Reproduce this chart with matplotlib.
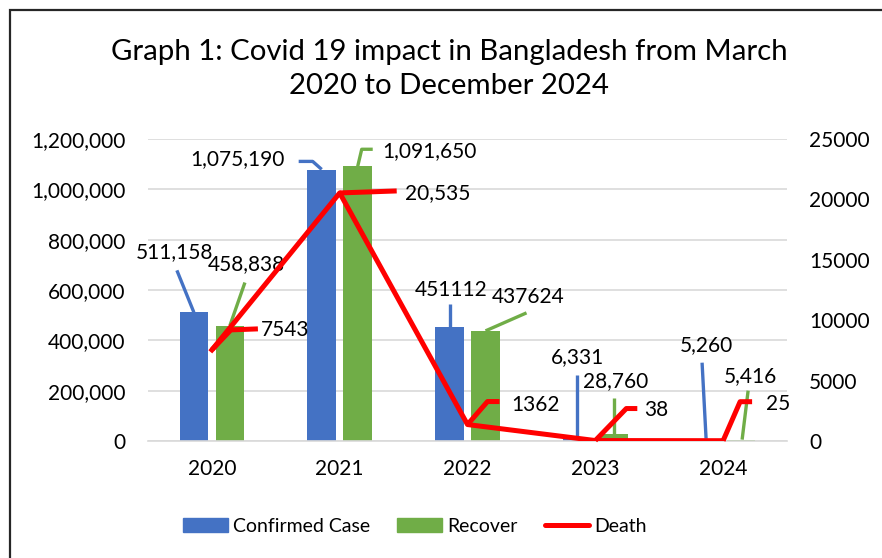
import matplotlib
matplotlib.use("Agg")
import matplotlib.pyplot as plt
from matplotlib.patches import Rectangle, Patch
from matplotlib.lines import Line2D
import numpy as np

plt.rcParams['font.family'] = ['Lato', 'DejaVu Sans']

years = ['2020', '2021', '2022', '2023', '2024']
confirmed = [511158, 1075190, 451112, 6331, 5260]
recovered = [458838, 1091650, 437624, 28760, 5416]
deaths = [7543, 20535, 1362, 38, 25]

# how each data label is written
confirmed_fmt = ['{:,}', '{:,}', '{}', '{:,}', '{:,}']
recovered_fmt = ['{:,}', '{:,}', '{}', '{:,}', '{:,}']
death_fmt = ['{}', '{:,}', '{}', '{}', '{}']

BLUE = '#4472C4'
GREEN = '#70AD47'
RED = '#FF0000'
GRID = '#D9D9D9'

# label placement: text centre offset and leader path, in pixels (x right, y down)
confirmed_lbl = [((-19, -60), [(-17, -42), (0, 0)]),
                 ((-84, -11), [(-23, -9), (-9, -9), (0, -1)]),
                 ((2, -37), [(1, -23), (1, 0)]),
                 ((0, -82), [(0, -64), (0, -1)]),
                 ((1, -95), [(-3, -77), (1, -1)])]
recovered_lbl = [((16, -61), [(15, -43), (0, 0)]),
                 ((72, -15), [(15, -17), (4, -17), (0, 0)]),
                 ((43, -34), [(41, -18), (0, 0)]),
                 ((2, -53), [(1, -36), (1, 0)]),
                 ((9, -64), [(7, -49), (1, 0)])]
death_lbl = [((73, -20), [(0, 0), (19, -20), (46, -21)]),
             ((98, 0), [(0, 0), (57, -2)]),
             ((68, -20), [(0, 0), (20, -23), (32, -23)]),
             ((61, -31), [(0, 0), (31, -32), (42, -32)]),
             ((55, -37), [(0, 0), (17, -39), (29, -39)])]

fig = plt.figure(figsize=(8.82, 5.58), dpi=100)
ax = fig.add_axes([148 / 882, 1 - 441 / 558, 639 / 882, 302 / 558])
ax2 = ax.twinx()

x = np.arange(len(years))
width = 0.225
off = 0.141

ax.bar(x - off, confirmed, width, color=BLUE, zorder=2)
ax.bar(x + off, recovered, width, color=GREEN, zorder=2)
ax2.plot(x, deaths, color=RED, lw=3.6, zorder=3)

ax.set_xlim(-0.5, 4.5)
ax.set_ylim(0, 1200000)
ax.set_yticks(np.arange(0, 1200001, 200000))
ax.yaxis.set_major_formatter(matplotlib.ticker.StrMethodFormatter('{x:,.0f}'))
ax2.set_ylim(0, 25000)
ax2.set_yticks(np.arange(0, 25001, 5000))

ax.set_xticks(x)
ax.set_xticklabels(years)
ax.grid(axis='y', color=GRID, lw=1.2, zorder=0)
ax.set_axisbelow(True)

for a in (ax, ax2):
    for s in a.spines.values():
        s.set_visible(False)
ax.spines['bottom'].set_visible(True)
ax.spines['bottom'].set_color(GRID)
ax.spines['bottom'].set_linewidth(1.2)

ax.tick_params(axis='y', length=0, pad=16, labelsize=15)
ax.tick_params(axis='x', length=0, pad=13, labelsize=15)
ax2.tick_params(axis='y', length=0, pad=16, labelsize=15)


def add_label(axis, xv, yv, text, color, spec, lw):
    (tx, ty), path = spec
    px, py = axis.transData.transform((xv, yv))
    inv = axis.transData.inverted()
    pts = inv.transform([(px + dx, py - dy) for dx, dy in path])
    axis.plot(pts[:, 0], pts[:, 1], color=color, lw=lw, clip_on=False,
              solid_capstyle='butt', zorder=4)
    lx, ly = inv.transform((px + tx, py - ty))
    axis.text(lx, ly, text, ha='center', va='center', fontsize=15,
              color='black', zorder=5, clip_on=False)


for i in range(len(years)):
    add_label(ax, x[i] - off, confirmed[i], confirmed_fmt[i].format(confirmed[i]),
              BLUE, confirmed_lbl[i], 2.4)
    add_label(ax, x[i] + off, recovered[i], recovered_fmt[i].format(recovered[i]),
              GREEN, recovered_lbl[i], 2.4)
    add_label(ax2, x[i], deaths[i], death_fmt[i].format(deaths[i]),
              RED, death_lbl[i], 3.6)

fig.text(449 / 882, 1 - 69 / 558,
         'Graph 1: Covid 19 impact in Bangladesh from March\n2020 to December 2024',
         ha='center', va='center', fontsize=21.2, linespacing=1.38)

handles = [Patch(color=BLUE), Patch(color=GREEN),
           Line2D([], [], color=RED, lw=3.6, solid_capstyle='round')]
fig.legend(handles, ['Confirmed Case', 'Recover', 'Death'], loc='center',
           bbox_to_anchor=(415 / 882, 1 - 526 / 558), ncol=3, frameon=False,
           fontsize=14, handlelength=2.3, handleheight=0.75, handletextpad=0.25,
           columnspacing=1.4)

# chart border
fig.patches.append(Rectangle((10 / 882, -0.1), 1.2, 1.1 - 10 / 558,
                             transform=fig.transFigure, fill=False,
                             edgecolor='#262626', lw=1.6))

fig.savefig('out.png', dpi=100, facecolor='white')
